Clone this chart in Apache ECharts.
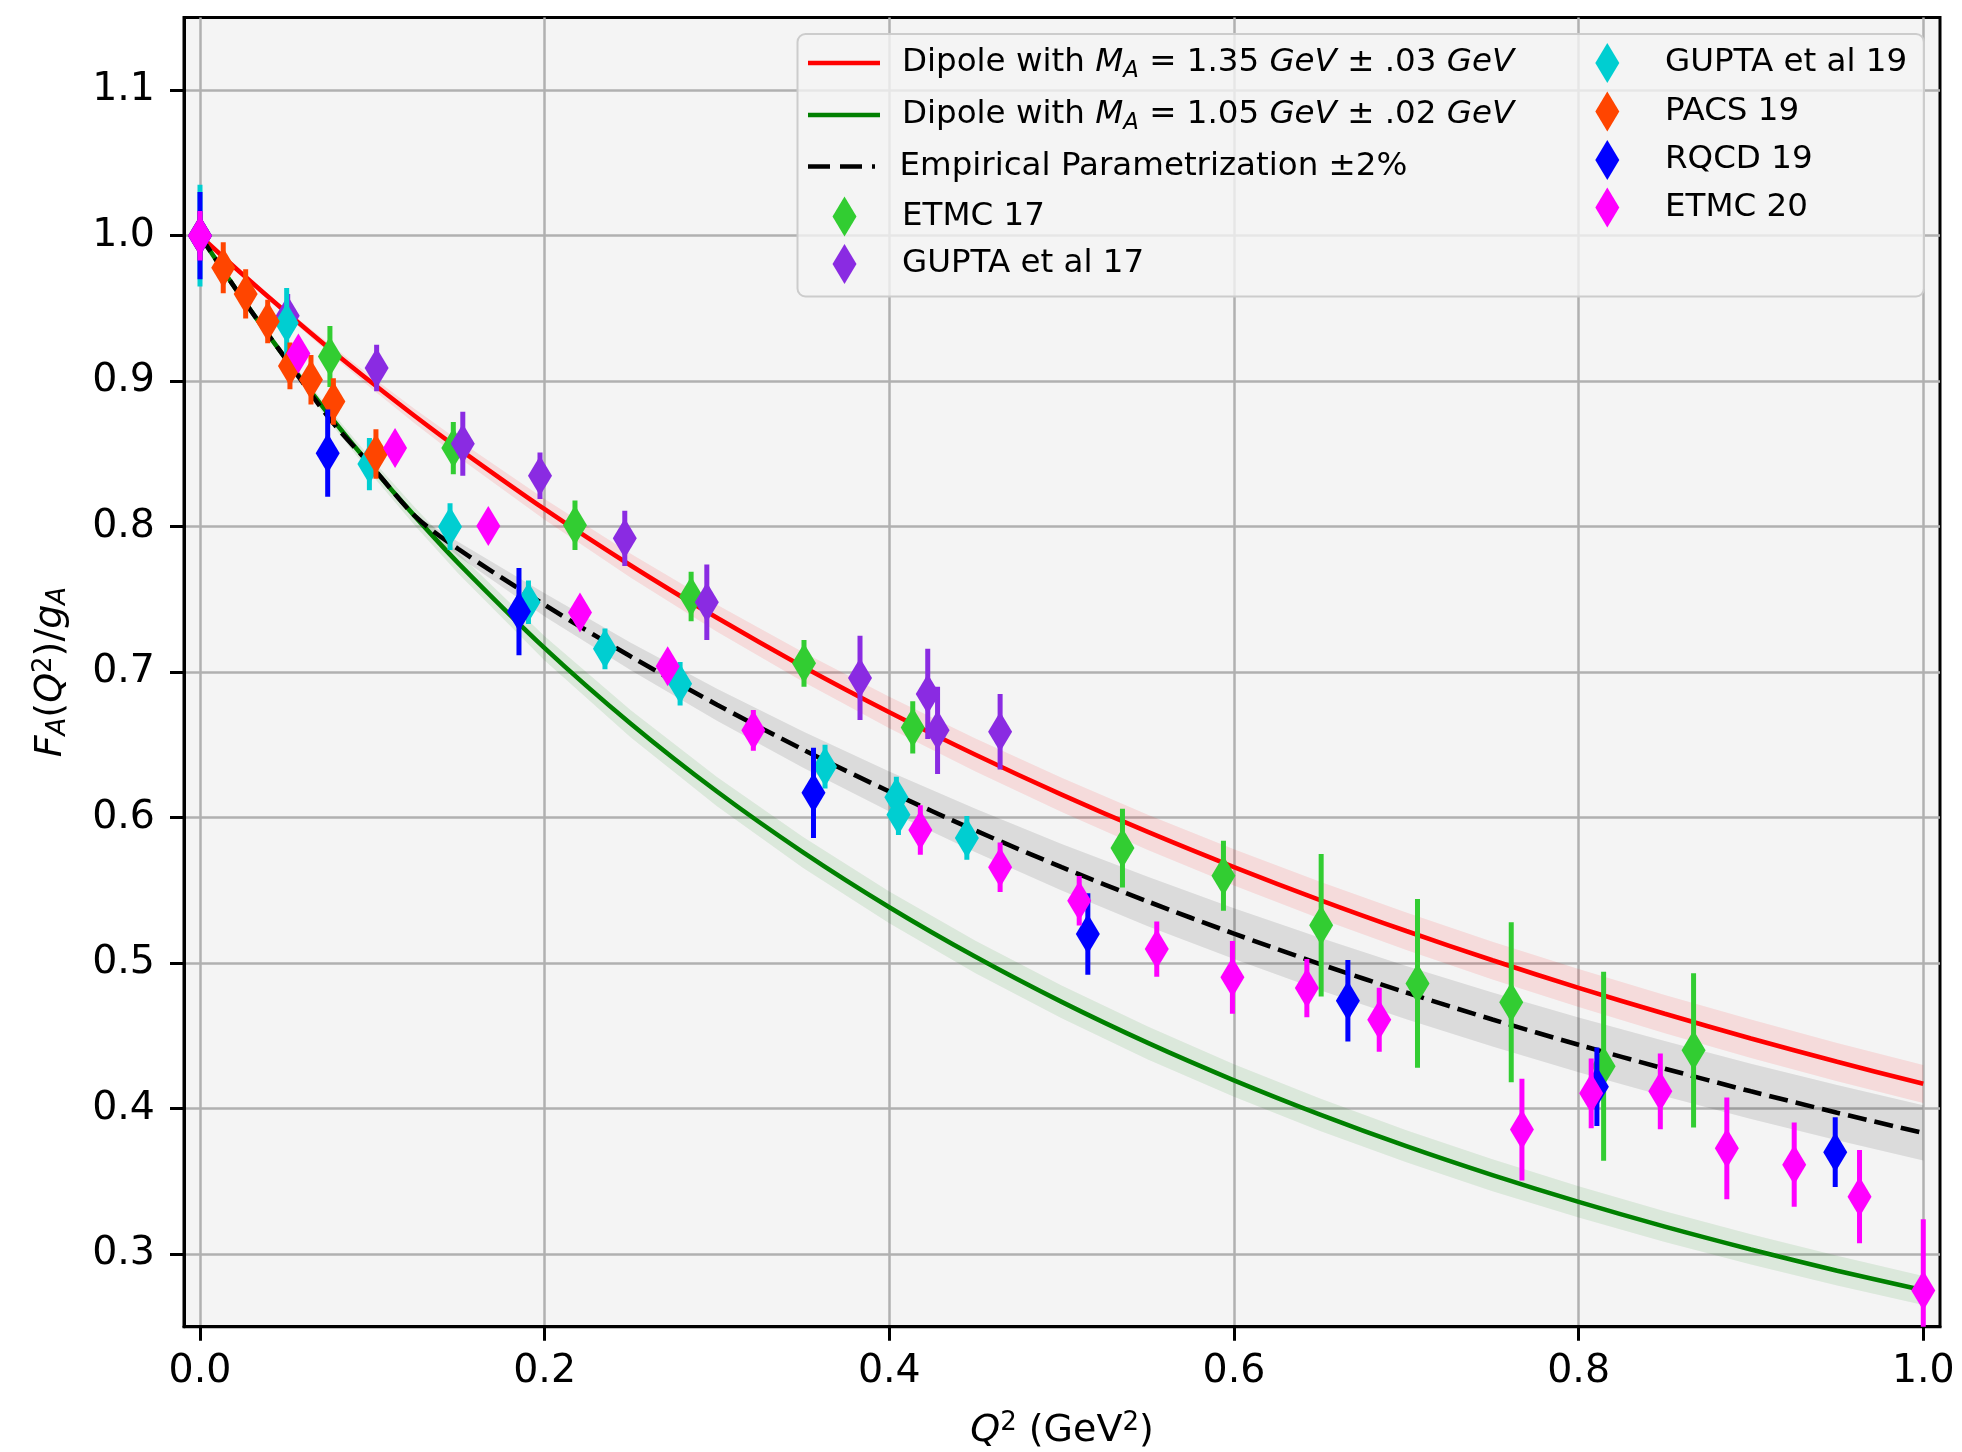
<!DOCTYPE html>
<html>
<head>
<meta charset="utf-8">
<script src="https://cdn.jsdelivr.net/npm/echarts@6.0.0/dist/echarts.min.js"></script>
<style>
html, body { margin: 0; padding: 0; background: #ffffff; }
#chart { width: 1962px; height: 1452px; }
</style>
</head>
<body>
<div id="chart"></div>
<script>
// ---------------- data ----------------
const xTicks = [0.0, 0.2, 0.4, 0.6, 0.8, 1.0];
const yTicks = [0.3, 0.4, 0.5, 0.6, 0.7, 0.8, 0.9, 1.0, 1.1];

const NAME_D135 = 'Dipole with M_A = 1.35 GeV ± .03 GeV';
const NAME_D105 = 'Dipole with M_A = 1.05 GeV ± .02 GeV';
const NAME_EMP = 'Empirical Parametrization ±2%';

// curves
const qCurve = [0, 0.025, 0.05, 0.075, 0.1, 0.125, 0.15, 0.2, 0.25, 0.3, 0.35, 0.4, 0.45, 0.5, 0.55, 0.6, 0.65, 0.7, 0.75, 0.8, 0.85, 0.9, 0.95, 1.0];
const dipole135 = [1.0, 0.9731, 0.9473, 0.9225, 0.8987, 0.8757, 0.8537, 0.8120, 0.7733, 0.7373, 0.7037, 0.6724, 0.6432, 0.6158, 0.5901, 0.5660, 0.5433, 0.5220, 0.5019, 0.4829, 0.4651, 0.4481, 0.4321, 0.4170];
const dipole105 = [1.0, 0.9561, 0.9151, 0.8767, 0.8406, 0.8067, 0.7748, 0.7165, 0.6645, 0.6179, 0.5761, 0.5384, 0.5043, 0.4733, 0.4451, 0.4194, 0.3958, 0.3741, 0.3542, 0.3358, 0.3188, 0.3031, 0.2885, 0.2750];
const empirical = [1.0, 0.956, 0.915, 0.8745, 0.841, 0.807, 0.7845, 0.7462, 0.7107, 0.6776, 0.6467, 0.6179, 0.5911, 0.5659, 0.5423, 0.5202, 0.4993, 0.4797, 0.4612, 0.4438, 0.4274, 0.4118, 0.3971, 0.3832];

// uncertainty bands (same Q^2 grid as the curves)
const qBand = [0, 0.025, 0.05, 0.075, 0.1, 0.125, 0.15, 0.2, 0.25, 0.3, 0.35, 0.4, 0.45, 0.5, 0.55, 0.6, 0.65, 0.7, 0.75, 0.8, 0.85, 0.9, 0.95, 1.0];
const dipole135Low = [1.0, 0.9719, 0.9450, 0.9192, 0.8944, 0.8706, 0.8477, 0.8047, 0.7648, 0.7278, 0.6934, 0.6614, 0.6316, 0.6038, 0.5777, 0.5533, 0.5304, 0.5089, 0.4887, 0.4697, 0.4517, 0.4348, 0.4188, 0.4037];
const dipole135High = [1.0, 0.9743, 0.9495, 0.9257, 0.9027, 0.8806, 0.8593, 0.8190, 0.7814, 0.7463, 0.7136, 0.6830, 0.6543, 0.6273, 0.6020, 0.5782, 0.5558, 0.5347, 0.5147, 0.4959, 0.4780, 0.4611, 0.4451, 0.4299];
const dipole105Low = [1.0, 0.9545, 0.9120, 0.8723, 0.8351, 0.8003, 0.7676, 0.7079, 0.6550, 0.6077, 0.5654, 0.5274, 0.4930, 0.4620, 0.4337, 0.4080, 0.3845, 0.3630, 0.3432, 0.3250, 0.3082, 0.2927, 0.2783, 0.2650];
const dipole105High = [1.0, 0.9577, 0.9181, 0.8808, 0.8458, 0.8128, 0.7817, 0.7247, 0.6737, 0.6279, 0.5866, 0.5492, 0.5153, 0.4845, 0.4563, 0.4305, 0.4069, 0.3851, 0.3651, 0.3465, 0.3294, 0.3135, 0.2987, 0.2849];
const qEmpBand = [0.13, 0.15, 0.2, 0.25, 0.3, 0.35, 0.4, 0.45, 0.5, 0.55, 0.6, 0.65, 0.7, 0.75, 0.8, 0.85, 0.9, 0.95, 1.0];
const empiricalLow = [0.798, 0.7795, 0.7382, 0.7012, 0.6666, 0.6342, 0.6041, 0.5761, 0.5499, 0.5253, 0.5027, 0.4813, 0.4614, 0.4426, 0.4250, 0.4084, 0.3928, 0.3781, 0.3642];
const empiricalHigh = [0.804, 0.7895, 0.7542, 0.7202, 0.6886, 0.6592, 0.6317, 0.6061, 0.5819, 0.5593, 0.5377, 0.5173, 0.4980, 0.4798, 0.4626, 0.4464, 0.4308, 0.4161, 0.4022];

// lattice data sets
const etmc17Q = [0.0754, 0.147, 0.2176, 0.285, 0.3505, 0.4136, 0.5353, 0.5939, 0.6506, 0.7065, 0.7609, 0.8145, 0.8667];
const etmc17F = [0.917, 0.854, 0.801, 0.752, 0.706, 0.662, 0.579, 0.560, 0.526, 0.486, 0.473, 0.429, 0.440];
const etmc17Err = [0.021, 0.018, 0.017, 0.017, 0.016, 0.018, 0.027, 0.024, 0.049, 0.058, 0.055, 0.065, 0.053];

const gupta17Q = [0.0509, 0.1025, 0.1525, 0.1973, 0.2465, 0.2941, 0.383, 0.4223, 0.428, 0.4643];
const gupta17F = [0.945, 0.909, 0.857, 0.835, 0.792, 0.748, 0.696, 0.685, 0.660, 0.659];
const gupta17Err = [0.015, 0.016, 0.022, 0.016, 0.019, 0.026, 0.029, 0.031, 0.030, 0.026];

const gupta19Q = [0, 0.0503, 0.0983, 0.1451, 0.1906, 0.235, 0.2786, 0.3627, 0.4041, 0.4053, 0.445];
const gupta19F = [1.0, 0.940, 0.843, 0.800, 0.748, 0.716, 0.692, 0.635, 0.614, 0.602, 0.586];
const gupta19Err = [0.035, 0.024, 0.018, 0.016, 0.015, 0.014, 0.015, 0.015, 0.014, 0.014, 0.015];

const pacs19Q = [0, 0.0135, 0.0265, 0.0393, 0.0522, 0.0644, 0.0774, 0.1021];
const pacs19F = [1.0, 0.978, 0.960, 0.941, 0.9105, 0.901, 0.886, 0.850];
const pacs19Err = [0.017, 0.0175, 0.017, 0.015, 0.016, 0.017, 0.016, 0.017];

const rqcd19Q = [0, 0.0741, 0.1851, 0.356, 0.5152, 0.6661, 0.8106, 0.9489];
const rqcd19F = [1.0, 0.8505, 0.7416, 0.617, 0.520, 0.474, 0.415, 0.370];
const rqcd19Err = [0.03, 0.03, 0.03, 0.031, 0.028, 0.028, 0.027, 0.024];

const etmc20Q = [0, 0.0571, 0.1132, 0.1673, 0.2205, 0.2714, 0.3211, 0.418, 0.4643, 0.5102, 0.5552, 0.5991, 0.6423, 0.6843, 0.7671, 0.8073, 0.8474, 0.886, 0.9251, 0.963, 1.0];
const etmc20F = [1.0, 0.919, 0.854, 0.8005, 0.741, 0.704, 0.660, 0.5914, 0.5658, 0.5428, 0.5096, 0.4902, 0.4828, 0.461, 0.3855, 0.4104, 0.4118, 0.3726, 0.3614, 0.3394, 0.2748];
const etmc20Err = [0.017, 0.008, 0.008, 0.008, 0.01, 0.01, 0.014, 0.017, 0.017, 0.017, 0.019, 0.025, 0.02, 0.022, 0.035, 0.024, 0.026, 0.035, 0.029, 0.032, 0.049];

// ---------------- chart building ----------------
const FONT = 'DejaVu Sans';
const pairs = (xs, ys) => xs.map((x, i) => [x, ys[i]]);

// band drawn as one polygon through the axis scales (lower edge forward, upper edge back)
function bandSeries(id, xs, lo, hi, color) {
  return {
    type: 'custom', name: id, silent: true, clip: true, z: 1,
    data: xs.map((x, i) => [x, lo[i], hi[i]]),
    encode: { x: 0, y: [1, 2] },
    renderItem: function (params, api) {
      if (params.dataIndex !== 0) return null;
      const n = params.dataInsideLength;
      const lower = [], upper = [];
      for (let k = 0; k < n; k++) {
        const x = api.value(0, k);
        lower.push(api.coord([x, api.value(1, k)]));
        upper.push(api.coord([x, api.value(2, k)]));
      }
      return { type: 'polygon', shape: { points: lower.concat(upper.reverse()) },
        style: { fill: color, stroke: null } };
    }
  };
}

function curveSeries(name, ys, color, dash) {
  return { type: 'line', name: name, data: pairs(qCurve, ys), smooth: 0.3, symbol: 'none', showSymbol: false, silent: true, z: 2,
    itemStyle: { color: color },
    lineStyle: { color: color, width: 4.6, type: dash ? [19, 8] : 'solid', cap: 'butt' } };
}

function dataSeries(name, color, qs, fs, es, z) {
  return [
    { type: 'custom', name: name + ' (err)', silent: true, clip: true, z: z,
      data: qs.map((q, i) => [q, fs[i], es[i]]),
      encode: { x: 0, y: 1 },
      renderItem: function (params, api) {
        const x = api.value(0), y = api.value(1), e = api.value(2);
        const a = api.coord([x, y + e]);
        const b = api.coord([x, y - e]);
        return { type: 'line', shape: { x1: a[0], y1: a[1], x2: b[0], y2: b[1] },
          style: { stroke: color, lineWidth: 5, lineCap: 'butt' } };
      } },
    { type: 'scatter', name: name, data: pairs(qs, fs), symbol: 'diamond', symbolSize: [24, 40], silent: true, z: z,
      itemStyle: { color: color, opacity: 1, borderWidth: 0 } }
  ];
}

const series = [].concat(
  [bandSeries('empBand', qEmpBand, empiricalLow, empiricalHigh, 'rgba(0,0,0,0.1)'),
   bandSeries('redBand', qBand, dipole135Low, dipole135High, 'rgba(255,0,0,0.1)'),
   bandSeries('greenBand', qBand, dipole105Low, dipole105High, 'rgba(0,128,0,0.1)')],
  [curveSeries(NAME_D135, dipole135, '#ff0000', false),
   curveSeries(NAME_D105, dipole105, '#008000', false),
   curveSeries(NAME_EMP, empirical, '#000000', true)],
  dataSeries('ETMC 17', '#32cd32', etmc17Q, etmc17F, etmc17Err, 3),
  dataSeries('GUPTA et al 17', '#8a2be2', gupta17Q, gupta17F, gupta17Err, 4),
  dataSeries('GUPTA et al 19', '#00ced1', gupta19Q, gupta19F, gupta19Err, 5),
  dataSeries('PACS 19', '#ff4500', pacs19Q, pacs19F, pacs19Err, 6),
  dataSeries('RQCD 19', '#0000ff', rqcd19Q, rqcd19F, rqcd19Err, 7),
  dataSeries('ETMC 20', '#ff00ff', etmc20Q, etmc20F, etmc20Err, 8)
);

// legend (one component per row, to match the two-column matplotlib layout)
const LEG_FS = 32.5;
const legendRich = {
  n: { fontFamily: FONT, fontSize: LEG_FS, color: '#000', lineHeight: 40 },
  i: { fontFamily: FONT, fontSize: LEG_FS, fontStyle: 'italic', color: '#000', lineHeight: 40 },
  sub: { fontFamily: FONT, fontSize: 22.75, fontStyle: 'italic', color: '#000', lineHeight: 24, verticalAlign: 'bottom' }
};
const legendLabels = {};
legendLabels[NAME_D135] = '{n|Dipole with }{i|M}{sub|A}{n| = 1.35 }{i|GeV}{n| ± .03 }{i|GeV}';
legendLabels[NAME_D105] = '{n|Dipole with }{i|M}{sub|A}{n| = 1.05 }{i|GeV}{n| ± .02 }{i|GeV}';

const LINE_ICON = 'path://M0,0H72V4.5H0Z';
const DASH_ICON = 'path://M0,0H22V4.5H0Z M32,0H54V4.5H32Z M64,0H67V4.5H64Z';
const legendRows = [
  { name: NAME_D135, left: 808, cy: 63, w: 72, h: 4.5, icon: LINE_ICON, pad: 17 },
  { name: NAME_D105, left: 808, cy: 115, w: 72, h: 4.5, icon: LINE_ICON, pad: 17 },
  { name: NAME_EMP, left: 808, cy: 166.5, w: 72, h: 4.5, icon: DASH_ICON, pad: 17 },
  { name: 'ETMC 17', left: 832.5, cy: 216.5, w: 24, h: 40, icon: 'diamond', pad: 40.5 },
  { name: 'GUPTA et al 17', left: 832.5, cy: 264, w: 24, h: 40, icon: 'diamond', pad: 40.5 },
  { name: 'GUPTA et al 19', left: 1595.3, cy: 63, w: 24, h: 40, icon: 'diamond', pad: 40.7 },
  { name: 'PACS 19', left: 1595.3, cy: 111.5, w: 24, h: 40, icon: 'diamond', pad: 40.7 },
  { name: 'RQCD 19', left: 1595.3, cy: 160, w: 24, h: 40, icon: 'diamond', pad: 40.7 },
  { name: 'ETMC 20', left: 1595.3, cy: 207.5, w: 24, h: 40, icon: 'diamond', pad: 40.7 }
];
const legends = legendRows.map(r => ({
  data: [{ name: r.name, icon: r.icon, itemStyle: { borderWidth: 0 } }],
  left: r.left, top: r.cy - 20, padding: 0, orient: 'horizontal',
  itemWidth: r.w, itemHeight: r.h, selectedMode: false, z: 100,
  formatter: name => legendLabels[name] || name,
  textStyle: { fontFamily: FONT, fontSize: LEG_FS, color: '#000', lineHeight: 40, padding: [0, 0, 0, r.pad], rich: legendRich }
}));

const AX_FS = 39.5;
const option = {
  animation: false,
  backgroundColor: '#ffffff',
  textStyle: { fontFamily: FONT },
  grid: { left: 184, right: 22, top: 17.5, bottom: 125.3, containLabel: false, outerBoundsMode: 'none',
    show: true, backgroundColor: '#f4f4f4', borderColor: '#000000', borderWidth: 3 },
  xAxis: {
    type: 'value', min: -0.00928, max: 1.0097,
    axisLine: { show: true, onZero: false, lineStyle: { color: '#000', width: 3 } },
    axisTick: { show: true, inside: false, length: 14, customValues: xTicks, lineStyle: { color: '#000', width: 3 } },
    axisLabel: { show: true, customValues: xTicks, margin: 25, color: '#000', fontFamily: FONT, fontSize: AX_FS,
      formatter: v => v.toFixed(1) },
    splitLine: { show: true, lineStyle: { color: '#b0b0b0', width: 2.5 } },
    name: '{i|Q}{sup|2}{n| (GeV}{sup|2}{n|)}',
    nameLocation: 'middle', nameGap: 84,
    nameTextStyle: { color: '#000', fontFamily: FONT, fontSize: 38, lineHeight: 40,
      rich: {
        n: { fontFamily: FONT, fontSize: 38, color: '#000', lineHeight: 40 },
        i: { fontFamily: FONT, fontSize: 38, fontStyle: 'italic', color: '#000', lineHeight: 40 },
        sup: { fontFamily: FONT, fontSize: 26, color: '#000', lineHeight: 20, verticalAlign: 'top' }
      } }
  },
  yAxis: {
    type: 'value', min: 0.25, max: 1.15,
    axisLine: { show: true, onZero: false, lineStyle: { color: '#000', width: 3 } },
    axisTick: { show: true, inside: false, length: 14, customValues: yTicks, lineStyle: { color: '#000', width: 3 } },
    axisLabel: { show: true, customValues: yTicks, margin: 29, color: '#000', fontFamily: FONT, fontSize: AX_FS,
      formatter: v => v.toFixed(1) },
    splitLine: { show: true, lineStyle: { color: '#b0b0b0', width: 2.5 } },
    name: '{i|F}{sub|A}{n|(}{i|Q}{sup|2}{n|)/}{i|g}{sub|A}',
    nameLocation: 'middle', nameGap: 113,
    nameTextStyle: { color: '#000', fontFamily: FONT, fontSize: 38, lineHeight: 40,
      rich: {
        n: { fontFamily: FONT, fontSize: 38, color: '#000', lineHeight: 40 },
        i: { fontFamily: FONT, fontSize: 38, fontStyle: 'italic', color: '#000', lineHeight: 40 },
        sup: { fontFamily: FONT, fontSize: 26, color: '#000', lineHeight: 20, verticalAlign: 'top' },
        sub: { fontFamily: FONT, fontSize: 26, fontStyle: 'italic', color: '#000', lineHeight: 22, verticalAlign: 'bottom' }
      } }
  },
  legend: legends,
  graphic: { elements: [
    { type: 'rect', z: 90, silent: true,
      shape: { x: 797.5, y: 34, width: 1126.5, height: 262.5, r: 8 },
      style: { fill: 'rgba(244,244,244,0.8)', stroke: '#cccccc', lineWidth: 2 } }
  ] },
  series: series
};

const chart = echarts.init(document.getElementById('chart'), null, { renderer: 'canvas', width: 1962, height: 1452 });
chart.setOption(option);
</script>
</body>
</html>
